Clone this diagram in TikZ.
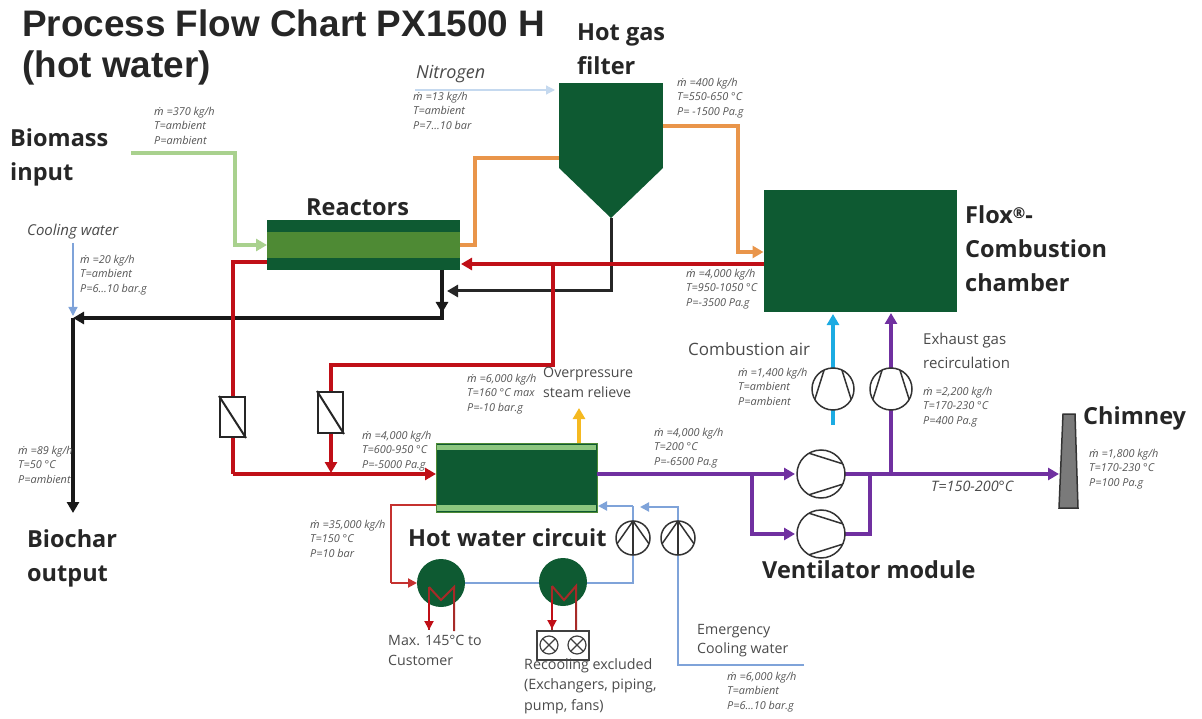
\documentclass[tikz,border=0pt]{standalone}
\usepackage{fontspec}
\setmainfont{Open Sans}
\newfontfamily\titlefont{Liberation Sans}
\newfontfamily\dotfont{Noto Sans}
\newcommand{\mflow}{{\dotfont\itshape ṁ}}
\usetikzlibrary{arrows.meta}
\definecolor{dkgreen}{HTML}{0E5A32}
\definecolor{midgreen}{HTML}{4E8A34}
\definecolor{ltgreen}{HTML}{A9D18E}
\definecolor{bandgreen}{HTML}{8CC67F}
\definecolor{redpipe}{HTML}{C00F17}
\definecolor{hotred}{HTML}{C5312F}
\definecolor{orangepipe}{HTML}{E9954A}
\definecolor{purplepipe}{HTML}{7030A0}
\definecolor{airblue}{HTML}{1CABE2}
\definecolor{waterblue}{HTML}{7FA3D9}
\definecolor{nitroblue}{HTML}{C5D9EF}
\definecolor{amberpipe}{HTML}{F5B920}
\definecolor{labelgray}{HTML}{4A4A4A}
\definecolor{datagray}{HTML}{555555}
\tikzset{
  box/.style={fill=dkgreen,draw=none,inner sep=0pt,outer sep=0pt},
  pipe/.style={line width=3.5pt,line join=miter},
  tip/.style={-{Triangle[length=11pt,width=12pt]}},
  smalltip/.style={-{Triangle[length=9pt,width=9pt]}},
  heading/.style={font=\fontsize{23.5}{34}\selectfont\bfseries,text=black!85,inner sep=0pt,anchor=west,align=left},
  note/.style={font=\fontsize{14.2}{20}\selectfont,text=labelgray,inner sep=0pt,anchor=north west,align=left},
  data/.style={font=\fontsize{10.9}{14.5}\selectfont\itshape,text=datagray,inner sep=0pt,anchor=north west,align=left},
  symline/.style={line width=1.5pt,draw=black!80},
  rotor/.pic={
    \draw[symline,fill=white] (0,0) circle (1);
    \draw[symline] (25:1) -- (120:1);
    \draw[symline] (-25:1) -- (-120:1);
  },
  pumpsym/.pic={
    \draw[symline,fill=white] (0,0) circle (1);
    \draw[symline] (0,-1) -- (0,1);
    \draw[symline] (-90:1) -- (160:1);
    \draw[symline] (-90:1) -- (20:1);
  }
}
\begin{document}
\begin{tikzpicture}[x=1pt,y=-1pt]
\useasboundingbox (0,0) rectangle (1202,719);
% coordinates of free ends and corners
\coordinate (bioIn) at (131,153);
\coordinate (bioC) at (235,153);
\coordinate (coolIn) at (73,243);
\coordinate (coolEnd) at (73,316);
\coordinate (nIn) at (415,90);
\coordinate (charJ) at (73,318);
\coordinate (charEnd) at (73,513);
\coordinate (emIn) at (804,665);
% main units
\node[box,minimum width=193pt,minimum height=50pt] (reactor) at (363.5,245) {};
\fill[midgreen] (267,232) rectangle (460,258);
\node[box,minimum width=104pt,minimum height=85pt] (filter) at (611,125.5) {};
\fill[dkgreen] (559,168) -- (663,168) -- (611,218) -- cycle;
\coordinate (filterTip) at (611,218);
\node[box,minimum width=193pt,minimum height=122pt] (chamber) at (860,251) {};
\node[box,draw=midgreen,line width=1pt,minimum width=161pt,minimum height=69pt] (hx) at (516.5,477.5) {};
\fill[bandgreen] (437,445) rectangle (596,450);
\fill[bandgreen] (437,505) rectangle (596,511);
\coordinate (filterL) at (559,158);
\coordinate (filterR) at (663,126);
% biomass, nitrogen, cooling water
\draw[pipe,tip,draw=ltgreen] (bioIn) -- (bioC) -- (bioC |- reactor.west) -- (reactor.west);
\draw[line width=1.2pt,smalltip,draw=nitroblue] (nIn) -- (555,90);
\draw[line width=1.2pt,smalltip,draw=waterblue] (coolIn) -- (coolEnd);
% orange gas
\draw[pipe,draw=orangepipe] (reactor.east) -- (475,245) -- (475,158) -- (filterL);
\draw[pipe,tip,draw=orangepipe] (filterR) -- (738,126) -- (738,252) -- (chamber.west |- 0,252);
% black char
\draw[pipe,draw=black!90] (442,270) -- (442,318) -- (100,318);
\draw[pipe,tip,draw=black!90] (100,318) -- (charJ);
\draw[pipe,tip,draw=black!90] (442,270) -- (442,313);
\draw[pipe,draw=black!85,line width=3pt,tip] (filterTip) -- (611,291) -- (447,291);
\draw[pipe,tip,draw=black!90] (charJ) -- (charEnd);
% red gas
\draw[pipe,tip,draw=redpipe] (chamber.west |- 0,264) -- (461,264);
\draw[pipe,draw=redpipe] (553,264) -- (553,365) -- (331,365) -- (331,392);
\draw[pipe,draw=redpipe] (reactor.west |- 0,262) -- (233,262) -- (233,474);
\draw[pipe,tip,draw=redpipe] (233,474) -- (hx.west |- 0,474);
\draw[pipe,tip,draw=redpipe] (331,433) -- (331,473);
\node[draw=black!85,fill=white,line width=2pt,minimum width=25pt,minimum height=40pt,inner sep=0pt] (valveA) at (232.5,417) {};
\draw[line width=2pt,black!85] (valveA.north west) -- (valveA.south east);
\node[draw=black!85,fill=white,line width=2pt,minimum width=25pt,minimum height=41pt,inner sep=0pt] (valveB) at (330.5,412.5) {};
\draw[line width=2pt,black!85] (valveB.north west) -- (valveB.south east);
% steam relief
\draw[pipe,tip,draw=amberpipe] (579,443) -- (579,408);
% purple exhaust
\draw[pipe,tip,draw=purplepipe] (hx.east |- 0,474) -- (795,474);
\draw[pipe,tip,draw=purplepipe] (752,474) -- (752,534) -- (795,534);
\draw[pipe,draw=purplepipe] (845,534) -- (870,534) -- (870,474);
\draw[pipe,tip,draw=purplepipe] (845,474) -- (1059,474);
\draw[pipe,tip,draw=purplepipe] (891,474) -- (891,313);
\draw[pipe,tip,draw=airblue] (833,425) -- (833,314);
\pic[scale=24] (fanA) at (821,474) {rotor};
\pic[scale=24] (fanB) at (821,534) {rotor};
\pic[scale=21,rotate=90] (fanC) at (833,389) {rotor};
\pic[scale=21,rotate=90] (fanD) at (891,389) {rotor};
% chimney
\draw[fill=black!52,draw=black!80,line width=1.5pt] (1063,414) -- (1075,414) -- (1078,508) -- (1059,508) -- cycle;
% hot water circuit
\draw[line width=2pt,draw=hotred] (hx.west |- 0,505) -- (391,505) -- (391,583);
\draw[line width=2pt,smalltip,draw=hotred] (391,583) -- (417,583);
\draw[line width=2pt,draw=waterblue] (441,583) -- (633,583) -- (633,506);
\draw[line width=2pt,smalltip,draw=waterblue] (633,506) -- (598,506);
\draw[line width=2pt,smalltip,draw=waterblue] (emIn) -- (678,665) -- (678,507) -- (640,507);
\pic[scale=17] (pumpA) at (633,538) {pumpsym};
\pic[scale=17] (pumpB) at (678,538) {pumpsym};
\node[box,circle,minimum size=48pt] (hexA) at (441,583) {};
\node[box,circle,minimum size=48pt] (hexB) at (563,582) {};
\draw[line width=2pt,draw=hotred!85!black] (429,587) -- (429,630);
\draw[line width=2pt,draw=hotred!85!black] (429,587) -- (441,600) -- (454,587) -- (454,631);
\draw[line width=2pt,draw=hotred!85!black] (552,586) -- (552,630);
\draw[line width=2pt,draw=hotred!85!black] (552,586) -- (564,600) -- (576,586) -- (576,631);
\draw[line width=2pt,smalltip,draw=redpipe] (429,600) -- (429,630);
\draw[line width=2pt,smalltip,draw=redpipe] (552,600) -- (552,629);
\node[draw=black!75,line width=1.5pt,minimum width=52pt,minimum height=29pt,inner sep=0pt] (recool) at (563,645.5) {};
\foreach \cx in {549,577}{
  \draw[line width=1.2pt,black!75] (\cx,645) circle (9);
  \draw[line width=1.2pt,black!75] (\cx-6.4,645-6.4) -- (\cx+6.4,645+6.4) (\cx-6.4,645+6.4) -- (\cx+6.4,645-6.4);
}
% headings
\node[font=\titlefont\fontsize{36.9}{41}\selectfont\bfseries,text=black!85,inner sep=0pt,anchor=north west,align=left] (title) at (22,10) {Process Flow Chart PX1500 H\\(hot water)};
\node[heading] (lblFilter) at (577,49) {Hot gas\\filter};
\node[heading] (lblBio) at (10,157) {Biomass\\input};
\node[heading] (lblReact) at (306,207) {Reactors};
\node[heading] (lblFlox) at (965,249) {Flox\raisebox{.45ex}{\fontsize{15}{15}\selectfont ®}-\\Combustion\\chamber};
\node[heading] (lblChim) at (1083,418) {Chimney};
\node[heading] (lblHot) at (408,538) {Hot water circuit};
\node[heading] (lblVent) at (762,570) {Ventilator module};
\node[heading] (lblChar) at (27,558) {Biochar\\output};
% notes
\node[note,font=\fontsize{15}{20}\selectfont\itshape] at (27,224) {Cooling water};
\node[note,font=\fontsize{18}{20}\selectfont\itshape] at (416,65) {Nitrogen};
\node[note] at (543,367) {Overpressure\\steam relieve};
\node[note,font=\fontsize{17}{20}\selectfont] at (688,342) {Combustion air};
\node[note,font=\fontsize{15}{24}\selectfont] at (923,333) {Exhaust gas\\recirculation};
\node[note,font=\fontsize{14.4}{20}\selectfont\itshape] at (931,481) {T=150-200°C};
\node[note] at (388,635) {Max. 145°C to\\Customer};
\node[note,font=\fontsize{14.3}{20.5}\selectfont] at (524,658) {Recooling excluded\\(Exchangers, piping,\\pump, fans)};
\node[note,font=\fontsize{14.2}{19.5}\selectfont] at (697,624) {Emergency\\Cooling water};
% data
\node[data] at (154,107) {\mflow{} =370 kg/h\\T=ambient\\P=ambient};
\node[data] at (413,92) {\mflow{} =13 kg/h\\T=ambient\\P=7...10 bar};
\node[data] at (677,78) {\mflow{} =400 kg/h\\T=550-650 °C\\P= -1500 Pa.g};
\node[data] at (686,269) {\mflow{} =4,000 kg/h\\T=950-1050 °C\\P=-3500 Pa.g};
\node[data] at (80,255) {\mflow{} =20 kg/h\\T=ambient\\P=6...10 bar.g};
\node[data] at (467,374) {\mflow{} =6,000 kg/h\\T=160 °C max\\P=-10 bar.g};
\node[data] at (362,431) {\mflow{} =4,000 kg/h\\T=600-950 °C\\P=-5000 Pa.g};
\node[data] at (310,520) {\mflow{} =35,000 kg/h\\T=150 °C\\P=10 bar};
\node[data] at (654,428) {\mflow{} =4,000 kg/h\\T=200 °C\\P=-6500 Pa.g};
\node[data] at (738,368) {\mflow{} =1,400 kg/h\\T=ambient\\P=ambient};
\node[data] at (923,387) {\mflow{} =2,200 kg/h\\T=170-230 °C\\P=400 Pa.g};
\node[data] at (1089,449) {\mflow{} =1,800 kg/h\\T=170-230 °C\\P=100 Pa.g};
\node[data] at (18,446) {\mflow{} =89 kg/h\\T=50 °C\\P=ambient};
\node[data] at (727,672) {\mflow{} =6,000 kg/h\\T=ambient\\P=6...10 bar.g};
\end{tikzpicture}
\end{document}
